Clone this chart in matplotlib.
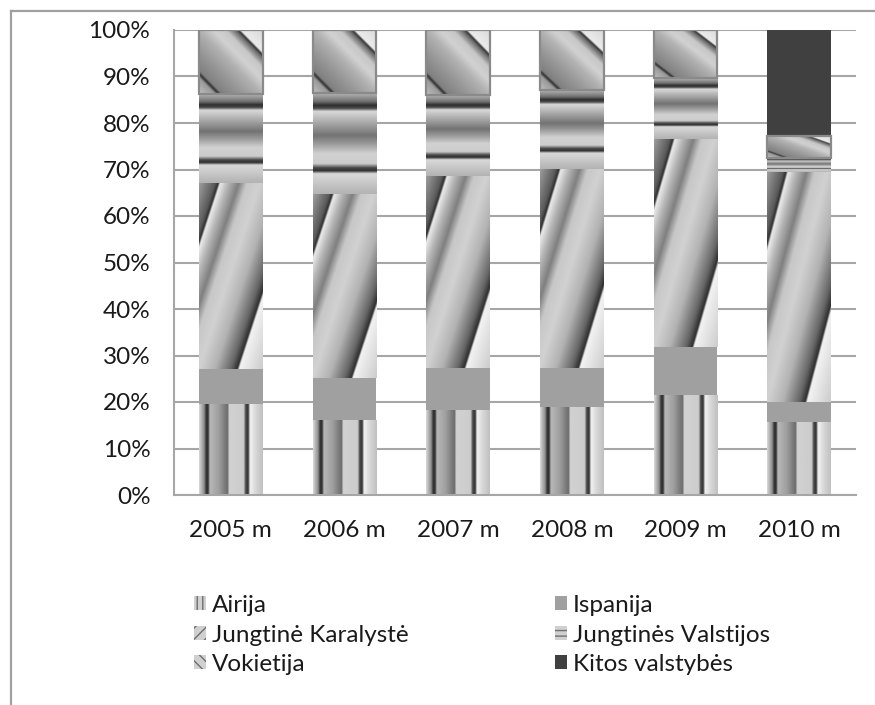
import numpy as np
import matplotlib
matplotlib.use("Agg")
import matplotlib.pyplot as plt
from matplotlib.patches import Patch
from matplotlib.lines import Line2D

plt.rcParams['font.family'] = ['Lato', 'DejaVu Sans']

years = ["2005 m", "2006 m", "2007 m", "2008 m", "2009 m", "2010 m"]

# shares in %
airija = [19.6, 16.1, 18.2, 19.0, 21.5, 15.6]
ispanija = [7.6, 9.1, 9.2, 8.4, 10.3, 4.3]
jungtine_karalyste = [40.0, 39.5, 41.2, 42.8, 44.8, 49.6]
jungtines_valstijos = [19.0, 21.7, 17.4, 16.9, 13.0, 2.9]
vokietija = [13.8, 13.6, 14.0, 12.9, 10.4, 4.8]
kitos = [0.0, 0.0, 0.0, 0.0, 0.0, 22.8]

names = ["Airija", "Ispanija", "Jungtinė Karalystė", "Jungtinės Valstijos",
         "Vokietija", "Kitos valstybės"]


# gradient "textures" in segment-relative coordinates (xr left->right, yr top->down)
def tex_airija(xr, yr):
    return np.interp(xr, [0, .08, .11, .14, .17, .31, .45, .47, .70, .73, .77, .80, .88, 1],
                     [.85, .55, .2, .2, .72, .62, .42, .82, .8, .3, .2, .95, .85, .75])


def tex_jk(xr, yr):
    s = xr + 0.95 * yr
    return np.interp(s, [0, .25, .3, .33, .45, .62, .75, .95, 1.2, 1.45, 1.55, 1.58, 1.95],
                     [.62, .35, .18, .92, .72, .5, .78, .82, .7, .4, .18, .95, .8])


def tex_jv(xr, yr):
    return np.interp(yr, [0, .08, .12, .15, .18, .42, .5, .6, .7, .74, .77, .8, 1],
                     [.7, .45, .18, .3, .85, .45, .6, .82, .8, .3, .18, .85, .7])


def tex_vok(xr, yr):
    s = xr - yr
    return np.interp(s, [-1, -.75, -.69, -.64, -.3, 0, .2, .4, .56, .6, .64, 1],
                     [.75, .6, .18, .5, .6, .7, .82, .78, .4, .18, .92, .85])


fig = plt.figure(figsize=(8.75, 7.05), dpi=100)
ax = fig.add_axes([174 / 875, 1 - 495 / 705, (856 - 174) / 875, (495 - 30) / 705])

x = np.arange(len(years))
width = 0.56
grid = np.linspace(0, 1, 200)
XR, YR = np.meshgrid(grid, grid)

series = [
    (airija, tex_airija, None),
    (ispanija, None, '#a0a0a0'),
    (jungtine_karalyste, tex_jk, None),
    (jungtines_valstijos, tex_jv, None),
    (vokietija, tex_vok, None),
    (kitos, None, '#404040'),
]

bottom = np.zeros(len(years))
for i, (vals, tex, color) in enumerate(series):
    vals = np.array(vals)
    if tex is None:
        ax.bar(x, vals, width, bottom=bottom, color=color, zorder=2)
    else:
        edge = '#8a8a8a' if tex is tex_vok else 'none'
        bars = ax.bar(x, vals, width, bottom=bottom, facecolor='none',
                      edgecolor=edge, linewidth=1.6, zorder=3)
        img = tex(XR, YR)
        for b in bars:
            if b.get_height() <= 0:
                continue
            x0, y0 = b.get_x(), b.get_y()
            im = ax.imshow(img, cmap='gray', vmin=0, vmax=1, aspect='auto',
                           interpolation='bilinear', zorder=2,
                           extent=(x0, x0 + b.get_width(), y0, y0 + b.get_height()))
            im.set_clip_path(b)
    bottom += vals

ax.set_xlim(-0.5, len(years) - 0.5)
ax.set_ylim(0, 100)
ax.set_yticks(np.arange(0, 101, 10))
ax.set_yticklabels([f"{v}%" for v in range(0, 101, 10)])
ax.set_xticks(x)
ax.set_xticklabels(years)
ax.tick_params(length=0, labelsize=17.5, colors='#1a1a1a')
ax.tick_params(axis='y', pad=17)
ax.tick_params(axis='x', pad=18)
ax.yaxis.grid(True, color='#a6a6a6', linewidth=1.5)
ax.set_axisbelow(True)
for side in ['top', 'right']:
    ax.spines[side].set_visible(False)
for side in ['left', 'bottom']:
    ax.spines[side].set_color('#a6a6a6')
    ax.spines[side].set_linewidth(1.5)

# legend (row-wise order like the original, matplotlib fills column-wise)
handles = [
    Patch(facecolor='#d0d0d0', edgecolor='#707070', hatch='|||', linewidth=0),
    Patch(facecolor='#d0d0d0', edgecolor='#707070', hatch='///', linewidth=0),
    Patch(facecolor='#d0d0d0', edgecolor='#707070', hatch='\\\\\\', linewidth=0),
    Patch(facecolor='#a0a0a0', edgecolor='none'),
    Patch(facecolor='#d0d0d0', edgecolor='#707070', hatch='---', linewidth=0),
    Patch(facecolor='#404040', edgecolor='none'),
]
labels = [names[0], names[2], names[4], names[1], names[3], names[5]]
fig.legend(handles, labels, ncol=2, loc='upper left',
           bbox_to_anchor=(194 / 875, 1 - 595 / 705), frameon=False,
           fontsize=17.5, handlelength=0.5, handleheight=0.5, handletextpad=0.25,
           columnspacing=6.0, labelspacing=0.35, borderaxespad=0, borderpad=0,
           labelcolor='#1a1a1a')

# outer chart frame
fig.add_artist(Line2D([11 / 875, 1], [1 - 11 / 705, 1 - 11 / 705],
                      transform=fig.transFigure, color='#a0a0a0', linewidth=1.6))
fig.add_artist(Line2D([11 / 875, 11 / 875], [0, 1 - 11 / 705],
                      transform=fig.transFigure, color='#a0a0a0', linewidth=1.6))

fig.savefig('out.png', dpi=100)
